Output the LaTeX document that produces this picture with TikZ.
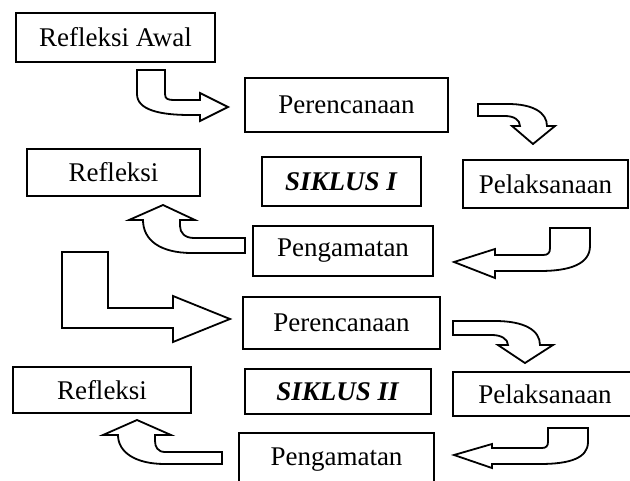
\documentclass[tikz,border=0pt]{standalone}
\usepackage{fontspec}
\setmainfont{Liberation Serif}
\begin{document}
\begin{tikzpicture}[x=1pt,y=-1pt,
  box/.style={draw=black, line width=2pt, fill=white, inner sep=0pt,
    font=\fontsize{27}{32}\selectfont},
  blockarrow/.style={draw=black, line width=1.8pt, fill=white, line join=miter}]
\useasboundingbox (0,0) rectangle (630,480);
% boxes
\node[box, minimum width=199pt, minimum height=49pt] (ra) at (115.5,37.5) {Refleksi Awal};
\node[box, minimum width=203pt, minimum height=54pt] (p1) at (346.5,105) {Perencanaan};
\node[box, minimum width=159pt, minimum height=49pt] (s1) at (341.5,181.5) {\textbf{\textit{SIKLUS I}}};
\node[box, minimum width=165pt, minimum height=48pt] (l1) at (545.5,184) {Pelaksanaan};
\node[box, minimum width=173pt, minimum height=47pt] (r1) at (113.5,172.5) {Refleksi};
\node[box, minimum width=180pt, minimum height=50pt] (g1) at (343,251) {Pengamatan};
\node[box, minimum width=197pt, minimum height=52pt] (p2) at (341.5,323) {Perencanaan};
\node[box, minimum width=186pt, minimum height=45pt] (s2) at (338,391.5) {\textbf{\textit{SIKLUS II}}};
\node[box, minimum width=184pt, minimum height=44pt] (l2) at (545,394) {Pelaksanaan};
\node[box, minimum width=178pt, minimum height=46pt] (r2) at (102,390) {Refleksi};
\node[box, minimum width=195pt, minimum height=54pt] (g2) at (336.5,460) {Pengamatan};
% block arrows
% 1: Refleksi Awal -> Perencanaan
\draw[blockarrow] (137,70) -- (165,70) -- (165,94) .. controls (165,99) and (168,100) .. (174,100)
  -- (200,100) -- (200,93) -- (228,107) -- (200,121) -- (200,115) -- (190,115)
  .. controls (160,115) and (137,110) .. (137,94) -- cycle;
% 2: Perencanaan -> Pelaksanaan
\draw[blockarrow] (478,104) -- (508,104) .. controls (532,104) and (547,112) .. (547,126)
  -- (555,126) -- (533,144) -- (512,126) -- (520,126)
  .. controls (520,120) and (514,116) .. (505,116) -- (478,116) -- cycle;
% 3: Pelaksanaan -> Pengamatan
\draw[blockarrow] (454,262) -- (495,249) -- (495,255) -- (543,255)
  .. controls (548,255) and (550,253) .. (550,248) -- (550,228) -- (590,228) -- (590,246)
  .. controls (590,264) and (570,271) .. (540,271) -- (495,271) -- (495,278) -- cycle;
% 4: Pengamatan -> Refleksi
\draw[blockarrow] (245,238) -- (194,238) .. controls (185,238) and (180,233) .. (180,226)
  -- (180,220) -- (195,220) -- (163,205) -- (129,220) -- (143,220)
  .. controls (143,240) and (160,253) .. (192,253) -- (245,253) -- cycle;
% 5: big L arrow -> Perencanaan II
\draw[blockarrow] (62,252) -- (108,252) -- (108,308) -- (173,308) -- (173,296)
  -- (230,319) -- (173,342) -- (173,328) -- (62,328) -- cycle;
% 6: Perencanaan II -> Pelaksanaan II
\draw[blockarrow] (453,321) -- (495,321) .. controls (524,321) and (540,330) .. (540,345)
  -- (553,345) -- (525,363) -- (498,345) -- (508,345)
  .. controls (508,339) and (501,335) .. (492,335) -- (453,335) -- cycle;
% 7: Pelaksanaan II -> Pengamatan II
\draw[blockarrow] (454,455) -- (492,444) -- (492,448) -- (542,448)
  .. controls (546,448) and (548,446) .. (548,442) -- (548,428) -- (588,428) -- (588,442)
  .. controls (588,458) and (570,464) .. (540,464) -- (492,464) -- (492,468) -- cycle;
% 8: Pengamatan II -> Refleksi II
\draw[blockarrow] (222,452) -- (165,452) .. controls (158,452) and (155,447) .. (155,441)
  -- (155,435) -- (171,435) -- (137,420) -- (103,435) -- (118,435)
  .. controls (118,452) and (135,464) .. (165,464) -- (222,464) -- cycle;
\end{tikzpicture}
\end{document}
